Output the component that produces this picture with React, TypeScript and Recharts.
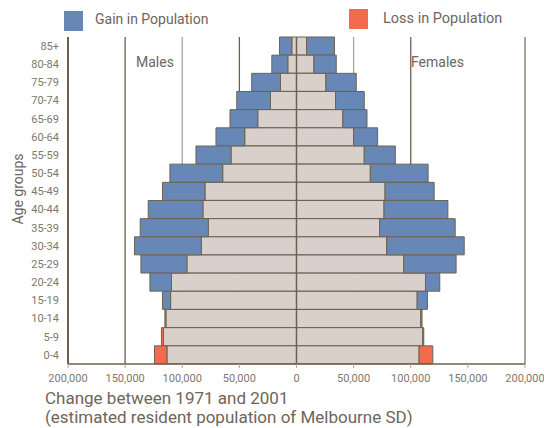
import { BarChart, Bar, XAxis, YAxis, CartesianGrid, ReferenceLine } from 'recharts'

/* ── Data (people per 5-year age group) ─────────────────────────────── */

const AGES = ['85+', '80-84', '75-79', '70-74', '65-69', '60-64', '55-59', '50-54', '45-49', '40-44', '35-39', '30-34', '25-29', '20-24', '15-19', '10-14', '5-9', '0-4']

const MALE_1971 = [4100, 7600, 14000, 22800, 33900, 45300, 57300, 64600, 80100, 81900, 77200, 83300, 95900, 109400, 110200, 115200, 118200, 124300]
const MALE_2001 = [14900, 21600, 39200, 52300, 58200, 70500, 88000, 110800, 117300, 129800, 136800, 141800, 136200, 128300, 117300, 114300, 116400, 113400]
const FEMALE_1971 = [8800, 15200, 25700, 34200, 40600, 50000, 59300, 64600, 77500, 76600, 72800, 78900, 93900, 112900, 105600, 109900, 111400, 119300]
const FEMALE_2001 = [33300, 34800, 52300, 59300, 61700, 71000, 86500, 115200, 120500, 132500, 138900, 146800, 139700, 125400, 114600, 108800, 110500, 107300]

const X_TICKS = [-200000, -150000, -100000, -50000, 0, 50000, 100000, 150000, 200000]

/* ── Palette ───────────────────────────────────────────────────────── */

const BASE = '#d9d0cb'
const GAIN = '#6788b6'
const LOSS = '#f36b4c'
const EDGE = '#6d6352'
const BROWN = '#6e604c'
const GREY = '#aaa59a'
const TEXT = '#6e655b'
const GRID_COLORS = [BROWN, BROWN, GREY, BROWN, BROWN, GREY, BROWN, GREY, BROWN]

// base = the smaller of the two years, then the gain or loss on top of it
const data = AGES.map((age, i) => {
  const m71 = MALE_1971[i], m01 = MALE_2001[i]
  const f71 = FEMALE_1971[i], f01 = FEMALE_2001[i]
  return {
    age,
    mBase: -Math.min(m71, m01),
    mGain: -Math.max(m01 - m71, 0),
    mLoss: -Math.max(m71 - m01, 0),
    fBase: Math.min(f71, f01),
    fGain: Math.max(f01 - f71, 0),
    fLoss: Math.max(f71 - f01, 0),
  }
})

const fmt = (v: number) => Math.abs(v).toLocaleString('en-US')

function GridLine(props: any) {
  const { x1, y1, x2, y2, index } = props
  return (
    <line
      key={props.key}
      x1={x1}
      y1={y1}
      x2={x2}
      y2={y2}
      stroke={GRID_COLORS[index] ?? BROWN}
      strokeWidth={index === 7 ? 2 : 1.3}
    />
  )
}

const FONT = 'Roboto, "Noto Sans", sans-serif'

export default function App() {
  const barProps = { stackId: 'a', stroke: EDGE, strokeWidth: 1, isAnimationActive: false }

  return (
    <div style={{ position: 'absolute', left: 0, top: 0, width: 544, height: 428, fontFamily: FONT, background: '#fff' }}>
      <BarChart
        width={544}
        height={428}
        data={data}
        layout="vertical"
        stackOffset="sign"
        barCategoryGap={0}
        margin={{ top: 37, right: 19, bottom: 34, left: 1 }}
      >
        <CartesianGrid horizontal={false} vertical={GridLine} />
        <XAxis
          type="number"
          domain={[-200000, 200000]}
          ticks={X_TICKS}
          tickFormatter={fmt}
          height={30}
          axisLine={{ stroke: BROWN, strokeWidth: 1.5 }}
          tickLine={{ stroke: GREY }}
          tickSize={4}
          tick={{ fontSize: 11, fill: '#80776c' }}
          tickMargin={6}
        />
        <YAxis
          type="category"
          dataKey="age"
          width={67}
          axisLine={{ stroke: BROWN, strokeWidth: 2 }}
          tickLine={false}
          tick={{ fontSize: 11, fill: '#80776c' }}
          tickMargin={3}
        />
        <Bar dataKey="mBase" fill={BASE} {...barProps} />
        <Bar dataKey="mGain" fill={GAIN} {...barProps} />
        <Bar dataKey="mLoss" fill={LOSS} {...barProps} />
        <Bar dataKey="fBase" fill={BASE} {...barProps} />
        <Bar dataKey="fGain" fill={GAIN} {...barProps} />
        <Bar dataKey="fLoss" fill={LOSS} {...barProps} />
        <ReferenceLine x={0} stroke={BROWN} strokeWidth={1.5} />
      </BarChart>

      {/* Legend */}
      <div style={{ position: 'absolute', left: 64, top: 11, width: 19, height: 20, background: GAIN }} />
      <div style={{ position: 'absolute', left: 95, top: 11, fontSize: 14, color: TEXT }}>Gain in Population</div>
      <div style={{ position: 'absolute', left: 349, top: 9, width: 19, height: 20, background: LOSS }} />
      <div style={{ position: 'absolute', left: 383, top: 10, fontSize: 14.5, color: TEXT }}>Loss in Population</div>

      {/* Side labels */}
      <div style={{ position: 'absolute', left: 136, top: 54, fontSize: 14, color: TEXT }}>Males</div>
      <div style={{ position: 'absolute', left: 411, top: 54, fontSize: 14, color: TEXT }}>Females</div>

      {/* Y axis title */}
      <div
        style={{
          position: 'absolute',
          left: 18,
          top: 189,
          fontSize: 14,
          color: TEXT,
          whiteSpace: 'nowrap',
          transform: 'translate(-50%, -50%) rotate(-90deg)',
        }}
      >
        Age groups
      </div>

      {/* Caption */}
      <div style={{ position: 'absolute', left: 45, top: 389, fontSize: 17, lineHeight: '19px', color: TEXT, whiteSpace: 'nowrap' }}>
        Change between 1971 and 2001
        <br />
        (estimated resident population of Melbourne SD)
      </div>
    </div>
  )
}
